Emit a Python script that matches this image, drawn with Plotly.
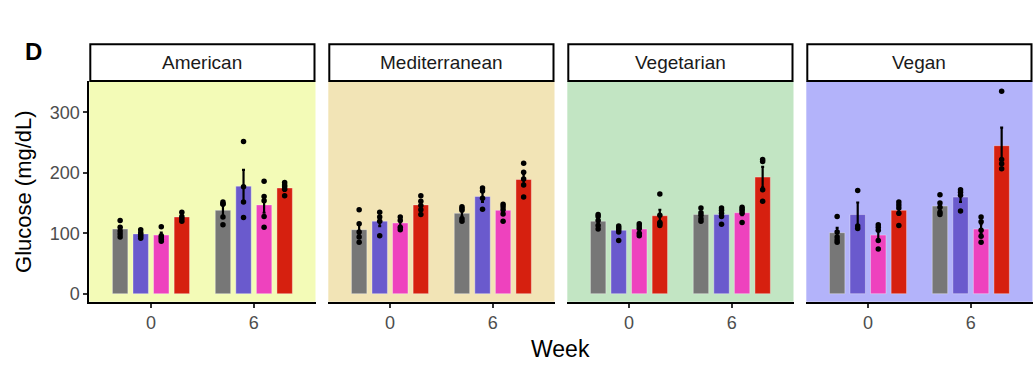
import plotly.graph_objects as go

# ---------------- data ----------------
diets = ["American", "Mediterranean", "Vegetarian", "Vegan"]
weeks = ["0", "6"]
groups = ["Group 1", "Group 2", "Group 3", "Group 4"]
colors = ["#777777", "#6A5ACD", "#EE42BE", "#D6200F"]
panel_bg = ["#F3FBB7", "#F2E4B6", "#C2E5C3", "#B3B3FA"]
y_ticks = [0, 100, 200, 300]

# bar heights (mean) per diet -> group -> [week 0, week 6]
means_american = [[107, 138], [99, 178], [97, 147], [127, 175]]
means_mediterranean = [[106, 133], [120, 161], [117, 138], [147, 189]]
means_vegetarian = [[120, 131], [105, 131], [107, 134], [129, 193]]
means_vegan = [[101, 145], [131, 160], [97, 107], [138, 245]]

# error bar half-lengths (SE)
se_american = [[5, 9], [3, 27], [4, 13], [3, 5]]
se_mediterranean = [[9, 5], [8, 9], [5, 5], [5, 9]]
se_vegetarian = [[4, 4], [4, 5], [4, 4], [10, 17]]
se_vegan = [[8, 6], [20, 8], [7, 8], [7, 30]]

# individual points per diet -> group -> [week 0 points, week 6 points]
pts_american = [
    [[121, 110, 104, 99, 94], [152, 149, 148, 127, 114]],
    [[106, 101, 98, 95, 92], [252, 177, 152, 126]],
    [[111, 96, 93, 90, 87], [186, 161, 154, 128, 110]],
    [[135, 128, 124, 120], [184, 180, 177, 173, 162]],
]
pts_mediterranean = [
    [[139, 116, 102, 94, 85], [144, 141, 138, 124, 120]],
    [[135, 127, 120, 96], [175, 170, 158, 140]],
    [[127, 121, 110, 106], [148, 144, 139, 132, 120]],
    [[162, 153, 146, 139, 131], [216, 201, 190, 180, 160]],
]
pts_vegetarian = [
    [[131, 128, 121, 113, 107], [142, 134, 130, 124, 120]],
    [[112, 109, 106, 102, 88], [142, 138, 133, 128, 115]],
    [[116, 112, 108, 100, 96], [143, 140, 137, 133, 118]],
    [[165, 130, 118, 116, 113], [222, 219, 172, 153]],
]
pts_vegan = [
    [[128, 102, 94, 89, 85], [164, 150, 143, 135, 131]],
    [[171, 112, 108], [172, 168, 163, 137]],
    [[114, 110, 105, 88, 74], [127, 119, 105, 95, 85]],
    [[152, 147, 142, 133, 113], [335, 222, 215, 207]],
]

means_all = [means_american, means_mediterranean, means_vegetarian, means_vegan]
se_all = [se_american, se_mediterranean, se_vegetarian, se_vegan]
pts_all = [pts_american, pts_mediterranean, pts_vegetarian, pts_vegan]

# ---------------- layout geometry (pixels) ----------------
W, H = 1034, 370
panel_left = [89.3, 328.3, 567.3, 806.3]
panel_w = 226.2
panel_top, panel_bot = 81.5, 303.5
strip_top = 44.5
FONT = "Liberation Sans, Arial, sans-serif"


def fx(x):
    return x / W


def fy(y):
    return 1 - y / H


fig = go.Figure()
shapes = []
annotations = []
layout_axes = {}

for i, diet in enumerate(diets):
    n = "" if i == 0 else str(i + 1)
    xa, ya = "x" + n, "y" + n
    for g in range(4):
        fig.add_trace(go.Bar(
            x=weeks, y=means_all[i][g], name=groups[g],
            marker=dict(color=colors[g], line=dict(color="rgba(255,255,255,0.35)", width=1)),
            error_y=dict(type="data", array=se_all[i][g], color="black", thickness=2.2, width=1.5),
            offsetgroup=str(g), alignmentgroup="p" + str(i),
            xaxis=xa, yaxis=ya, showlegend=False,
        ))
    for g in range(4):
        xs, ys = [], []
        for w, wk in enumerate(weeks):
            for v in pts_all[i][g][w]:
                xs.append(wk)
                ys.append(v)
        fig.add_trace(go.Scatter(
            x=xs, y=ys, mode="markers",
            marker=dict(color="black", size=5.5),
            offsetgroup=str(g), alignmentgroup="p" + str(i),
            xaxis=xa, yaxis=ya, showlegend=False,
        ))

    x0, x1 = panel_left[i], panel_left[i] + panel_w
    layout_axes["xaxis" + n] = dict(
        domain=[fx(x0), fx(x1)], anchor=ya, type="category",
        categoryorder="array", categoryarray=weeks, range=[-0.6, 1.6],
        showline=True, linecolor="black", linewidth=2,
        ticks="outside", ticklen=4, tickwidth=1.5, tickcolor="#333333",
        tickfont=dict(size=18, color="#4D4D4D", family=FONT),
        showgrid=False, zeroline=False, fixedrange=True,
    )
    yax = dict(
        domain=[fy(panel_bot), fy(panel_top)], anchor=xa, range=[-13.5, 352],
        showgrid=False, zeroline=False,
    )
    if i == 0:
        yax.update(showline=True, linecolor="black", linewidth=2,
                   ticks="outside", ticklen=4, tickwidth=1.5, tickcolor="#333333",
                   tickvals=y_ticks,
                   tickfont=dict(size=18, color="#4D4D4D", family=FONT))
    else:
        yax.update(showline=False, showticklabels=False, ticks="")
    layout_axes["yaxis" + n] = yax

    # panel background
    shapes.append(dict(type="rect", xref=xa + " domain", yref=ya + " domain",
                       x0=0, x1=1, y0=0, y1=1, fillcolor=panel_bg[i],
                       line=dict(width=0), layer="below"))
    # strip
    shapes.append(dict(type="rect", xref="paper", yref="paper",
                       x0=fx(x0 + 1), x1=fx(x1 - 1), y0=fy(panel_top), y1=fy(strip_top),
                       fillcolor="white", line=dict(color="black", width=2)))
    annotations.append(dict(text=diet, xref="paper", yref="paper",
                            x=fx((x0 + x1) / 2), y=fy((panel_top + strip_top) / 2),
                            showarrow=False, xanchor="center", yanchor="middle",
                            font=dict(size=19, color="#1A1A1A", family=FONT)))

annotations.append(dict(text="Week", xref="paper", yref="paper",
                        x=fx((panel_left[0] + panel_left[3] + panel_w) / 2), y=fy(351),
                        showarrow=False, xanchor="center", yanchor="middle",
                        font=dict(size=23, color="black", family=FONT)))
annotations.append(dict(text="Glucose (mg/dL)", xref="paper", yref="paper",
                        x=fx(24), y=fy(193), textangle=-90,
                        showarrow=False, xanchor="center", yanchor="middle",
                        font=dict(size=22, color="black", family=FONT)))
annotations.append(dict(text="<b>D</b>", xref="paper", yref="paper",
                        x=fx(33), y=fy(52),
                        showarrow=False, xanchor="center", yanchor="middle",
                        font=dict(size=24, color="black", family=FONT)))

fig.update_layout(
    width=W, height=H, margin=dict(l=0, r=0, t=0, b=0),
    paper_bgcolor="white", plot_bgcolor="rgba(0,0,0,0)",
    barmode="group", bargap=0.2, bargroupgap=0.25,
    scattermode="group", scattergap=0.2,
    shapes=shapes, annotations=annotations, showlegend=False,
    **layout_axes,
)

fig.write_html("out.html")
